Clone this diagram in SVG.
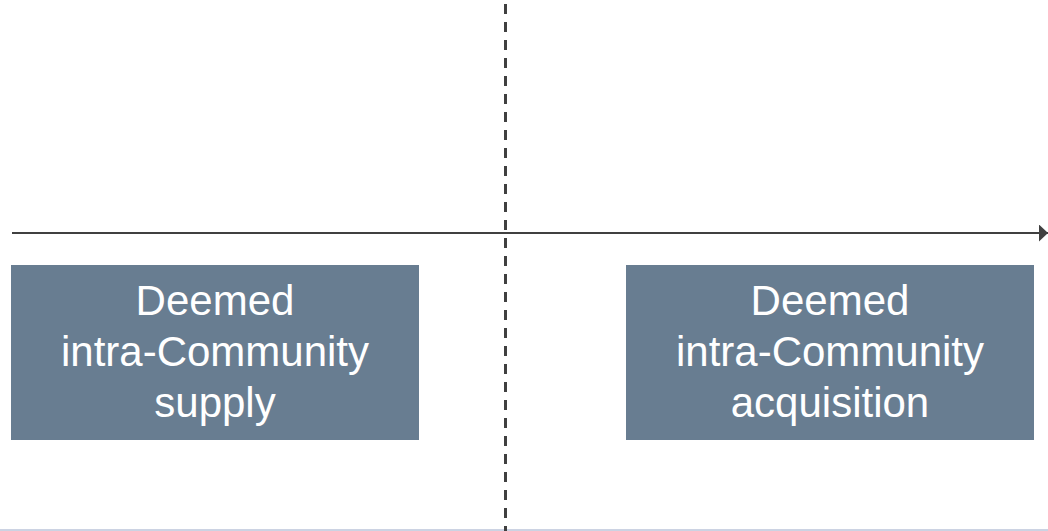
<svg xmlns="http://www.w3.org/2000/svg" width="1048" height="531" viewBox="0 0 1048 531">
<style>
.box{fill:#687d91}
.lbl{font-family:"Liberation Sans",Arial,sans-serif;font-size:42px;fill:#ffffff;text-anchor:middle}
.axis{stroke:#404040;stroke-width:2;fill:none}
.divider{stroke:#404040;stroke-width:3;stroke-dasharray:10 8;fill:none}
</style>
<defs>
<marker id="arr" markerWidth="10" markerHeight="18" refX="9" refY="8.5" orient="auto" markerUnits="userSpaceOnUse">
<path d="M0,0 L9,8.5 L0,17 Z" fill="#404040"/>
</marker>
</defs>
<rect x="0" y="0" width="1048" height="531" fill="#ffffff"/>
<line x1="0" y1="530" x2="1048" y2="530" stroke="#ccd3e3" stroke-width="2"/>
<g id="connectors">
<line class="divider" x1="505.5" y1="4" x2="505.5" y2="531"/>
<line class="axis" x1="12" y1="233" x2="1048" y2="233" marker-end="url(#arr)"/>
</g>
<g id="node-supply">
<rect class="box" x="11" y="265" width="408" height="175"/>
<text class="lbl" x="215" y="315">Deemed</text>
<text class="lbl" x="215" y="366">intra-Community</text>
<text class="lbl" x="215" y="417">supply</text>
</g>
<g id="node-acquisition">
<rect class="box" x="626" y="265" width="408" height="175"/>
<text class="lbl" x="830" y="315">Deemed</text>
<text class="lbl" x="830" y="366">intra-Community</text>
<text class="lbl" x="830" y="417">acquisition</text>
</g>
</svg>
